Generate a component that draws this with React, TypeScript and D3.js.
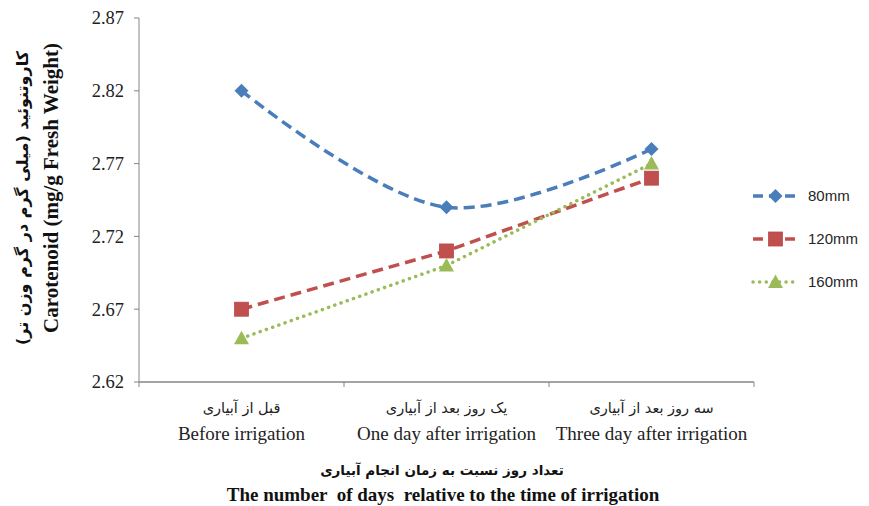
import React from "react";
import * as d3 from "d3";

const categoriesFa = ["قبل از آبیاری", "یک روز بعد از آبیاری", "سه روز بعد از آبیاری"];
const categoriesEn = ["Before irrigation", "One day after irrigation", "Three day after irrigation"];
const seriesNames = ["80mm", "120mm", "160mm"];
const values80 = [2.82, 2.74, 2.78];
const values120 = [2.67, 2.71, 2.76];
const values160 = [2.65, 2.70, 2.77];
const yTicks = [2.62, 2.67, 2.72, 2.77, 2.82, 2.87];

const W = 869, H = 506;
const left = 139, right = 754, top = 18, bottom = 382;

export default function App() {
  const x = d3.scaleBand<number>().domain([0, 1, 2]).range([left, right]);
  const y = d3.scaleLinear().domain([2.62, 2.87]).range([bottom, top]);
  const cx = (i: number) => (x(i) as number) + x.bandwidth() / 2;

  const series = [
    { name: seriesNames[0], vals: values80, color: "#4A7EBB", curve: d3.curveCatmullRom.alpha(0.5), dash: "11 6", cap: "butt", marker: "diamond" },
    { name: seriesNames[1], vals: values120, color: "#C0504D", curve: d3.curveLinear, dash: "11 6", cap: "butt", marker: "square" },
    { name: seriesNames[2], vals: values160, color: "#9BBB59", curve: d3.curveLinear, dash: "0.1 6.5", cap: "round", marker: "triangle" },
  ];

  const marker = (type: string, px: number, py: number, color: string, key: string) => {
    if (type === "diamond") {
      const s = 7;
      return <path key={key} d={`M${px},${py - s}L${px + s},${py}L${px},${py + s}L${px - s},${py}Z`} fill={color} />;
    }
    if (type === "square") {
      const s = 7;
      return <rect key={key} x={px - s} y={py - s} width={2 * s} height={2 * s} fill={color} stroke="#B84A47" strokeWidth={0.8} />;
    }
    const s = 7.5;
    return <path key={key} d={`M${px},${py - s}L${px + s},${py + s * 0.8}L${px - s},${py + s * 0.8}Z`} fill={color} />;
  };

  const legendY = [196, 239, 282];

  return (
    <svg width={W} height={H} style={{ position: "absolute", left: 0, top: 0, background: "#fff" }}>
      {/* y axis */}
      <line x1={left} x2={left} y1={top} y2={bottom} stroke="#868686" strokeWidth={1} />
      {yTicks.map((t) => (
        <g key={t}>
          <line x1={left - 5} x2={left} y1={y(t)} y2={y(t)} stroke="#868686" />
          <text x={left - 15} y={y(t)} dy="0.35em" textAnchor="end" fontFamily="Liberation Serif" fontSize={18.5} fill="#222">
            {t.toFixed(2)}
          </text>
        </g>
      ))}
      {/* x axis */}
      <line x1={left} x2={right} y1={bottom} y2={bottom} stroke="#868686" strokeWidth={1.5} />
      {[0, 1, 2, 3].map((i) => {
        const xx = left + x.step() * i;
        return <line key={i} x1={xx} x2={xx} y1={bottom} y2={bottom + 5} stroke="#868686" />;
      })}
      {categoriesFa.map((c, i) => (
        <text key={"fa" + i} x={cx(i)} y={413} textAnchor="middle" fontFamily="DejaVu Sans" fontSize={14.5} fill="#222" direction="rtl">
          {c}
        </text>
      ))}
      {categoriesEn.map((c, i) => (
        <text key={"en" + i} x={cx(i)} y={440} textAnchor="middle" fontFamily="Liberation Serif" fontSize={19} fill="#222">
          {c}
        </text>
      ))}
      <text x={442} y={475} textAnchor="middle" fontFamily="DejaVu Sans" fontWeight="bold" fontSize={13.5} fill="#111" direction="rtl">
        تعداد روز نسبت به زمان انجام آبیاری
      </text>
      <text x={443} y={501} textAnchor="middle" fontFamily="Liberation Serif" fontWeight="bold" fontSize={19} fill="#111" style={{ whiteSpace: "pre" }}>
        {"The number  of days  relative to the time of irrigation"}
      </text>
      {/* y titles */}
      <text transform="translate(28,198) rotate(-90)" textAnchor="middle" fontFamily="DejaVu Sans" fontWeight="bold" fontSize={16} fill="#111" direction="rtl">
        کاروتنوئید (میلی گرم در گرم وزن تر)
      </text>
      <text transform="translate(58,188) rotate(-90)" textAnchor="middle" fontFamily="Liberation Serif" fontWeight="bold" fontSize={21} fill="#111">
        Carotenoid (mg/g Fresh Weight)
      </text>
      {/* series */}
      {series.map((s) => {
        const line = d3
          .line<number>()
          .x((_, i) => cx(i))
          .y((v) => y(v))
          .curve(s.curve);
        return (
          <g key={s.name}>
            <path d={line(s.vals) || ""} fill="none" stroke={s.color} strokeWidth={3.5} strokeDasharray={s.dash} strokeLinecap={s.cap as any} />
            {s.vals.map((v, i) => marker(s.marker, cx(i), y(v), s.color, s.name + i))}
          </g>
        );
      })}
      {/* legend */}
      {series.map((s, i) => (
        <g key={"lg" + s.name}>
          <line x1={753} x2={798} y1={legendY[i]} y2={legendY[i]} stroke={s.color} strokeWidth={3.5} strokeDasharray={s.marker === "triangle" ? "0.1 6.5" : "10 6"} strokeLinecap={s.cap as any} />
          {marker(s.marker, 775.5, legendY[i], s.color, "lm" + i)}
          <text x={808} y={legendY[i]} dy="0.35em" fontFamily="Liberation Sans" fontSize={15} fill="#262626">
            {s.name}
          </text>
        </g>
      ))}
    </svg>
  );
}
